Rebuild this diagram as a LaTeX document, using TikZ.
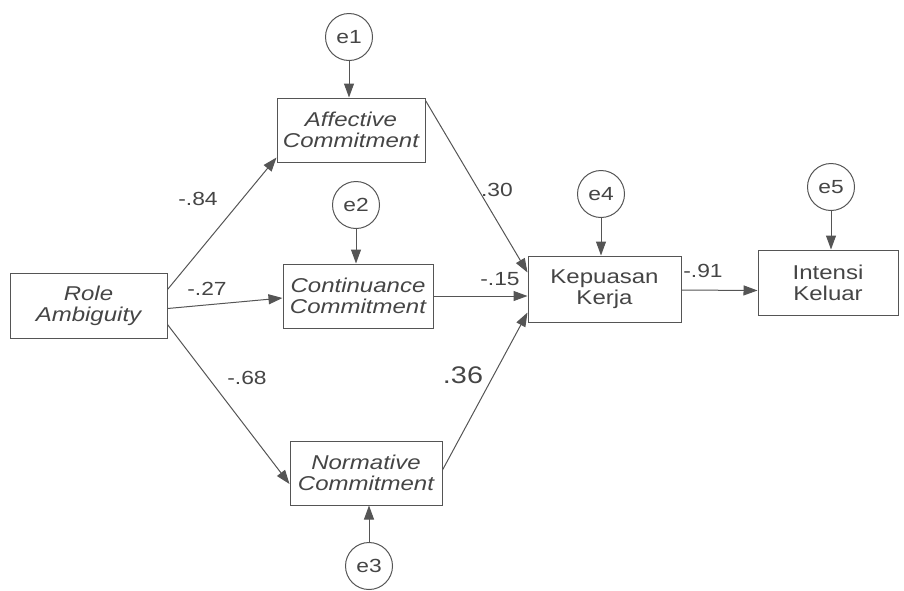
\documentclass[tikz,border=0pt]{standalone}
\usepackage{fontspec}
\setmainfont{Liberation Sans}
\usetikzlibrary{arrows.meta}
\definecolor{ink}{HTML}{454545}
\definecolor{lineink}{HTML}{555555}
\newcommand{\wide}[1]{\scalebox{1.2}[1]{#1}}
\tikzset{
  box/.style={draw=lineink, line width=1pt, rectangle, text=ink, align=center,
    font=\fontsize{20}{23}\selectfont, inner sep=0pt},
  err/.style={draw=lineink, line width=1pt, circle, minimum size=47pt, inner sep=0pt,
    text=ink, font=\fontsize{19}{21}\selectfont},
  link/.style={draw=lineink, line width=1pt, -{Triangle[length=14pt,width=10pt]}},
  lab/.style={text=ink, font=\fontsize{19}{21}\selectfont, inner sep=0pt},
}
\begin{document}
\begin{tikzpicture}[x=1pt,y=-1pt]
\useasboundingbox (0,0) rectangle (904,590);
% boxes
\node[box, minimum width=157pt, minimum height=65pt] (ra) at (88.5,305.5)
  {\wide{\itshape Role}\\[-2pt]\wide{\itshape Ambiguity}};
\node[box, minimum width=148pt, minimum height=64pt] (ac) at (351,130)
  {\wide{\itshape Affective}\\[-2pt]\wide{\itshape Commitment}};
\node[box, minimum width=150pt, minimum height=64pt] (cc) at (358,296)
  {\wide{\itshape Continuance}\\[-2pt]\wide{\itshape Commitment}};
\node[box, minimum width=152pt, minimum height=64pt] (nc) at (366,473)
  {\wide{\itshape Normative}\\[-2pt]\wide{\itshape Commitment}};
\node[box, minimum width=153pt, minimum height=66pt] (kk) at (604.5,289)
  {\wide{Kepuasan}\\[-2pt]\wide{Kerja}};
\node[box, minimum width=140pt, minimum height=65pt] (ik) at (828,282.5)
  {\wide{Intensi}\\[-2pt]\wide{Keluar}};
% error terms
\node[err] (e1) at (349,37) {\wide{e1}};
\node[err] (e2) at (356,205) {\wide{e2}};
\node[err] (e3) at (369,566) {\wide{e3}};
\node[err] (e4) at (601,194) {\wide{e4}};
\node[err] (e5) at (831,187) {\wide{e5}};
% error arrows
\draw[link] (e1.south) -- (e1.south |- ac.north);
\draw[link] (e2.south) -- (e2.south |- cc.north);
\draw[link] (e3.north) -- (e3.north |- nc.south);
\draw[link] (e4.south) -- (e4.south |- kk.north);
\draw[link] (e5.south) -- (e5.south |- ik.north);
% paths
\draw[link] ([yshift=-17pt]ra.north east) -- ([yshift=5pt]ac.south west);
\draw[link] ([yshift=-3pt]ra.east) -- ([yshift=-2pt]cc.west);
\draw[link] ([yshift=14pt]ra.south east) -- ([yshift=-11pt]nc.west);
\draw[link] ([yshift=-3pt]ac.north east) -- ([yshift=-17pt]kk.north west);
\draw[link] (cc.east) -- ([yshift=-7pt]kk.west);
\draw[link] ([yshift=3pt]nc.east) -- ([yshift=10pt]kk.south west);
\draw[link] ([yshift=-1pt]kk.east) -- ([yshift=-8pt]ik.west);
% labels
\node[lab] (l1) at (198,199) {\wide{-.84}};
\node[lab] (l2) at (207,289) {\wide{-.27}};
\node[lab] (l3) at (247,378) {\wide{-.68}};
\node[lab] (l4) at (497,190) {\wide{.30}};
\node[lab] (l5) at (500,279) {\wide{-.15}};
\node[lab, font=\fontsize{24}{26}\selectfont] (l6) at (463,375) {\wide{.36}};
\node[lab] (l7) at (703,271) {\wide{-.91}};
\end{tikzpicture}
\end{document}
